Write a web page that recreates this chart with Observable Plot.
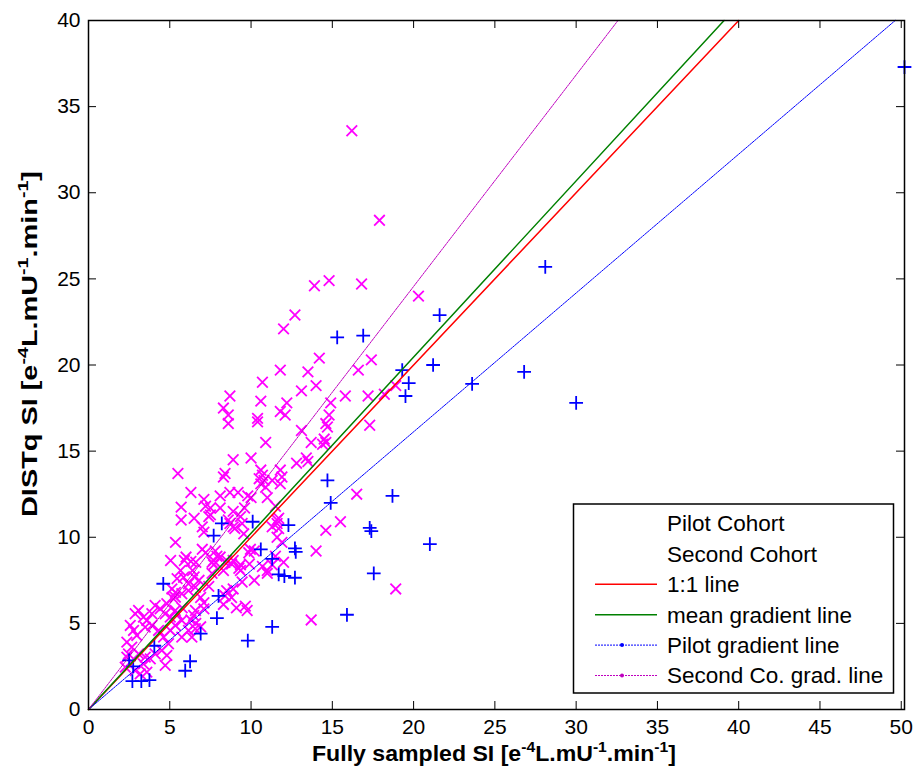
<!DOCTYPE html>
<html><head><meta charset="utf-8">
<script src="https://cdn.jsdelivr.net/npm/d3@7"></script>
<script src="https://cdn.jsdelivr.net/npm/@observablehq/plot@0.6"></script>
<style>
html,body{margin:0;padding:0;background:#fff;}
#chart{position:relative;width:915px;height:778px;overflow:hidden;}
</style></head><body><div id="chart"></div>
<script>
// ---------------- data ----------------
const xTicks = [0, 5, 10, 15, 20, 25, 30, 35, 40, 45, 50];
const yTicks = [0, 5, 10, 15, 20, 25, 30, 35, 40];

// Pilot Cohort: [fully sampled SI, DISTq SI]
const pilotCohort = [
  [50.2,37.3],[28.1,25.7],[21.6,22.9],[15.3,21.6],[16.9,21.7],[21.2,20.0],[26.8,19.6],
  [19.3,19.7],[19.7,18.95],[23.6,18.9],[19.5,18.2],[30.0,17.8],[14.7,13.3],[14.9,12.0],
  [18.7,12.4],[21.0,9.6],[17.3,10.55],[17.4,10.35],[17.55,7.9],[15.9,5.5],[12.3,10.7],
  [12.7,9.35],[12.75,9.15],[11.7,7.85],[12.05,7.75],[12.7,7.65],[11.3,4.8],[9.8,4.0],
  [8.2,10.8],[10.1,10.9],[7.7,10.1],[10.6,9.3],[11.3,8.75],[4.6,7.3],[8.0,6.6],[7.9,5.3],
  [6.9,4.4],[4.05,3.7],[6.25,2.8],[5.95,2.25],[2.5,2.85],[2.75,2.5],[2.7,1.65],[3.25,1.65],[3.75,1.7]
];

// Second Cohort: [fully sampled SI, DISTq SI]
const secondCohort = [
  [16.2,33.6],[17.9,28.4],[13.9,24.6],[14.8,24.9],[16.8,24.7],[20.3,24.0],
  [12.7,22.9],[12.0,22.1],[14.2,20.4],[17.4,20.3],[11.8,19.7],[13.5,19.6],[16.6,19.7],
  [10.7,19.0],[14.0,18.8],[13.1,18.5],[15.8,18.2],[17.2,18.2],[18.2,18.3],[18.9,18.8],
  [10.6,17.9],[12.2,17.8],[11.8,17.3],[12.1,17.1],[14.9,17.8],[14.8,17.1],[10.4,16.9],
  [8.7,18.2],[8.3,17.5],[8.6,17.1],[8.6,16.6],[10.4,16.7],
  [14.6,16.6],[14.7,16.4],[17.3,16.5],[13.1,16.2],[10.9,15.5],
  [14.5,15.7],[14.6,15.5],[14.4,15.4],[13.7,15.5],
  [8.9,14.5],[10.0,14.6],[12.8,14.3],[13.4,14.6],[13.5,14.4],
  [5.5,13.7],[8.4,13.7],[8.3,13.5],
  [10.6,13.9],[10.7,13.6],[10.8,13.3],[10.5,13.4],[11.8,13.9],[11.9,13.5],[11.3,13.3],[11.8,13.1],
  [10.6,13.1],[10.9,12.9],[11.0,12.3],[11.5,11.8],
  [16.5,12.5],[15.5,10.9],[14.6,10.4],[14.0,9.2],[18.9,7.0],[13.7,5.2],
  [11.6,11.0],[11.7,10.5],[11.6,10.0],[11.9,9.7],[11.3,10.6],
  [6.3,12.6],[7.1,12.2],[7.2,11.8],[8.1,12.4],[8.7,12.6],[9.2,12.6],[9.8,12.4],[10.0,12.3],
  [7.5,11.7],[8.1,11.7],[8.9,11.5],[9.6,11.7],[5.7,11.0],[6.5,11.1],[7.4,11.2],[8.6,11.0],
  [9.35,11.2],[8.9,10.6],[5.7,11.75],[7.5,11.3],[9.45,10.8],[7.1,10.3],[9.55,10.2],[7.0,10.6],
  [8.7,10.8],[9.0,10.5],
  [5.35,9.7],[7.0,9.3],[7.2,9.1],[7.8,9.2],[7.9,8.9],[9.96,9.3],[9.86,9.1],[10.2,9.2],
  [6.0,8.85],[6.3,8.6],[7.6,8.55],[7.7,8.4],[8.4,8.55],[11.6,10.8],[11.7,11.1],
  [10.7,8.3],[11.0,8.07],[11.5,8.9],[11.3,8.4],[12.0,8.55],[11.0,7.9],
  [5.05,8.65],[5.9,8.65],[6.6,8.55],[6.4,8.07],[6.8,7.5],
  [7.7,8.65],[8.1,8.85],[8.5,8.65],[8.3,8.07],[8.8,8.45],[9.25,8.2],[9.9,8.45],[8.9,8.65],[9.35,8.4],
  [5.66,8.07],[5.45,7.6],[6.5,7.7],[7.6,7.9],[9.35,8.07],[10.2,7.5],[9.45,7.4],
  [7.4,7.15],[5.35,6.8],[5.15,6.5],[6.9,6.5],[7.1,6.2],[8.4,6.6],[8.9,7.0],[8.3,6.1],
  [9.65,6.0],[9.76,5.75],[8.5,6.9],[8.8,6.5],[9.1,5.9],
  [5.76,5.9],[5.45,5.55],[6.58,5.75],[6.47,5.46],[7.1,5.84],
  [5.85,7.68],[6.15,7.3],[5.13,7.0],[5.34,6.52],[5.74,6.72],[6.15,6.9],[6.57,7.1],
  [2.87,5.56],[3.08,5.75],[3.38,5.36],[3.59,5.17],[3.9,5.56],[4.1,6.04],[4.41,5.85],[4.82,6.14],
  [4.72,5.56],[5.03,5.36],[5.34,5.75],
  [2.57,4.88],[2.77,4.59],[2.97,4.3],[3.49,4.78],[3.9,4.88],[4.31,4.59],[4.62,4.2],[4.92,3.82],
  [4.51,3.43],[4.82,3.14],
  [2.36,3.91],[2.66,3.62],[2.46,3.23],[3.08,3.23],[3.49,3.04],[3.38,2.65],[3.8,2.94],[4.1,3.23],
  [2.87,2.26],[3.18,2.07],[3.59,2.17],[2.26,2.46],[2.36,3.04],
  [5.74,5.17],[6.15,4.59],[5.74,4.2],[6.36,4.2],[6.57,4.69],[5.34,4.88],[5.03,4.59],[4.72,2.56],
  [6.3,5.2],[6.6,5.0],[6.9,4.8]
];

// fitted lines through the origin
const lineNames  = ["1:1 line", "mean gradient line", "Pilot gradient line", "Second Co. grad. line"];
const lineSlopes = [1.0, 1.023, 0.806, 1.228];
const lineColors = ["#ff0000", "#008000", "#0000ff", "#bf00bf"];
const lineDotted = [false, false, true, true];

const cohortNames = ["Pilot Cohort", "Second Cohort"];
const xLabelParts = [["Fully sampled SI [e", 0], ["-4", 1], ["L.mU", 0], ["-1", 1], [".min", 0], ["-1", 1], ["]", 0]];
const yLabelParts = [["DISTq SI [e", 0], ["-4", 1], ["L.mU", 0], ["-1", 1], [".min", 0], ["-1", 1], ["]", 0]];

// ---------------- layout ----------------
const W = 915, H = 778;
const mL = 88, mR = 11, mT = 20, mB = 69;
const plotW = W - mL - mR, plotH = H - mT - mB;
const FONT = "'Liberation Sans', Arial, Helvetica, sans-serif";
const tickLen = 8;
const xMax = 50.2, yMax = 40;

const lineMarks = lineSlopes.map((s, k) =>
  Plot.line([{x: 0, y: 0}, {x: yMax / s, y: yMax}], {
    x: "x", y: "y",
    stroke: lineColors[k],
    strokeWidth: lineDotted[k] ? 1 : 1.5,
    strokeDasharray: lineDotted[k] ? "2,1" : null
  })
);

const plot = Plot.plot({
  width: W, height: H,
  marginLeft: mL, marginRight: mR, marginTop: mT, marginBottom: mB,
  style: {fontFamily: FONT, fontSize: "21px", background: "white", color: "black", overflow: "visible"},
  x: {domain: [0, xMax], label: null},
  y: {domain: [0, yMax], label: null},
  marks: [
    Plot.dot(secondCohort, {x: d => d[0], y: d => d[1], symbol: "times", r: 4.9, stroke: "#ff00ff", strokeWidth: 1.8}),
    Plot.dot(pilotCohort, {x: d => d[0], y: d => d[1], symbol: "plus", r: 4.5, stroke: "#0000ff", strokeWidth: 1.8}),
    ...lineMarks,
    // inward MATLAB-style ticks on all four sides
    Plot.ruleX(xTicks, {x: d => d, insetTop: plotH - tickLen, stroke: "black", strokeWidth: 1}),
    Plot.ruleX(xTicks, {x: d => d, insetBottom: plotH - tickLen, stroke: "black", strokeWidth: 1}),
    Plot.ruleY(yTicks, {y: d => d, insetRight: plotW - tickLen, stroke: "black", strokeWidth: 1}),
    Plot.ruleY(yTicks, {y: d => d, insetLeft: plotW - tickLen, stroke: "black", strokeWidth: 1}),
    Plot.frame({stroke: "black", strokeWidth: 1.5}),
    Plot.axisX(xTicks, {tickSize: 0, tickPadding: 10, fontSize: 21, label: null}),
    Plot.axisY(yTicks, {tickSize: 0, tickPadding: 8, fontSize: 21, label: null})
  ]
});
document.getElementById("chart").appendChild(plot);

// ---------------- axis titles (with superscripts) ----------------
const svg = d3.select(plot);
function richText(sel, parts, size) {
  const supSize = size * 0.68, shift = size * 0.4;
  let up = false;
  parts.forEach(([s, sup]) => {
    const t = sel.append("tspan").text(s);
    if (sup && !up) { t.attr("font-size", supSize).attr("dy", -shift); up = true; }
    else if (!sup && up) { t.attr("dy", shift); up = false; }
    else if (sup) t.attr("font-size", supSize);
  });
}
const xl = svg.append("text")
  .attr("x", mL + plotW / 2 - 2).attr("y", 761)
  .attr("text-anchor", "middle").attr("font-family", FONT)
  .attr("font-weight", "bold").attr("font-size", 22).attr("fill", "black")
  .attr("textLength", 364).attr("lengthAdjust", "spacingAndGlyphs");
richText(xl, xLabelParts, 22);

const yl = svg.append("text")
  .attr("transform", `translate(37,344) rotate(-90)`)
  .attr("text-anchor", "middle").attr("font-family", FONT)
  .attr("font-weight", "bold").attr("font-size", 22).attr("fill", "black")
  .attr("textLength", 346).attr("lengthAdjust", "spacingAndGlyphs");
richText(yl, yLabelParts, 22);

// ---------------- legend ----------------
const lg = svg.append("g").attr("font-family", FONT).attr("font-size", 22.5).attr("text-anchor", "start");
const lgX = 573.5, lgY = 504, lgW = 320, lgH = 189, rowH = 30.4, row0 = 523.5;
lg.append("rect").attr("x", lgX).attr("y", lgY).attr("width", lgW).attr("height", lgH)
  .attr("fill", "white").attr("stroke", "black").attr("stroke-width", 1.5);
const entries = [
  ...cohortNames.map(n => ({name: n, color: null, dotted: false})),
  ...lineNames.map((n, k) => ({name: n, color: lineColors[k], dotted: lineDotted[k]}))
];
entries.forEach((e, i) => {
  const cy = row0 + i * rowH;
  if (e.color) {
    lg.append("line").attr("x1", 595).attr("x2", 657).attr("y1", cy).attr("y2", cy)
      .attr("stroke", e.color).attr("stroke-width", e.dotted ? 1 : 1.5)
      .attr("stroke-dasharray", e.dotted ? "2,1" : null);
    if (e.dotted) lg.append("circle").attr("cx", 622).attr("cy", cy).attr("r", 2).attr("fill", e.color);
  }
  lg.append("text").attr("x", 667).attr("y", cy).attr("dy", "0.35em")
    .attr("text-anchor", "start").attr("fill", "black").text(e.name);
});
</script></body></html>
